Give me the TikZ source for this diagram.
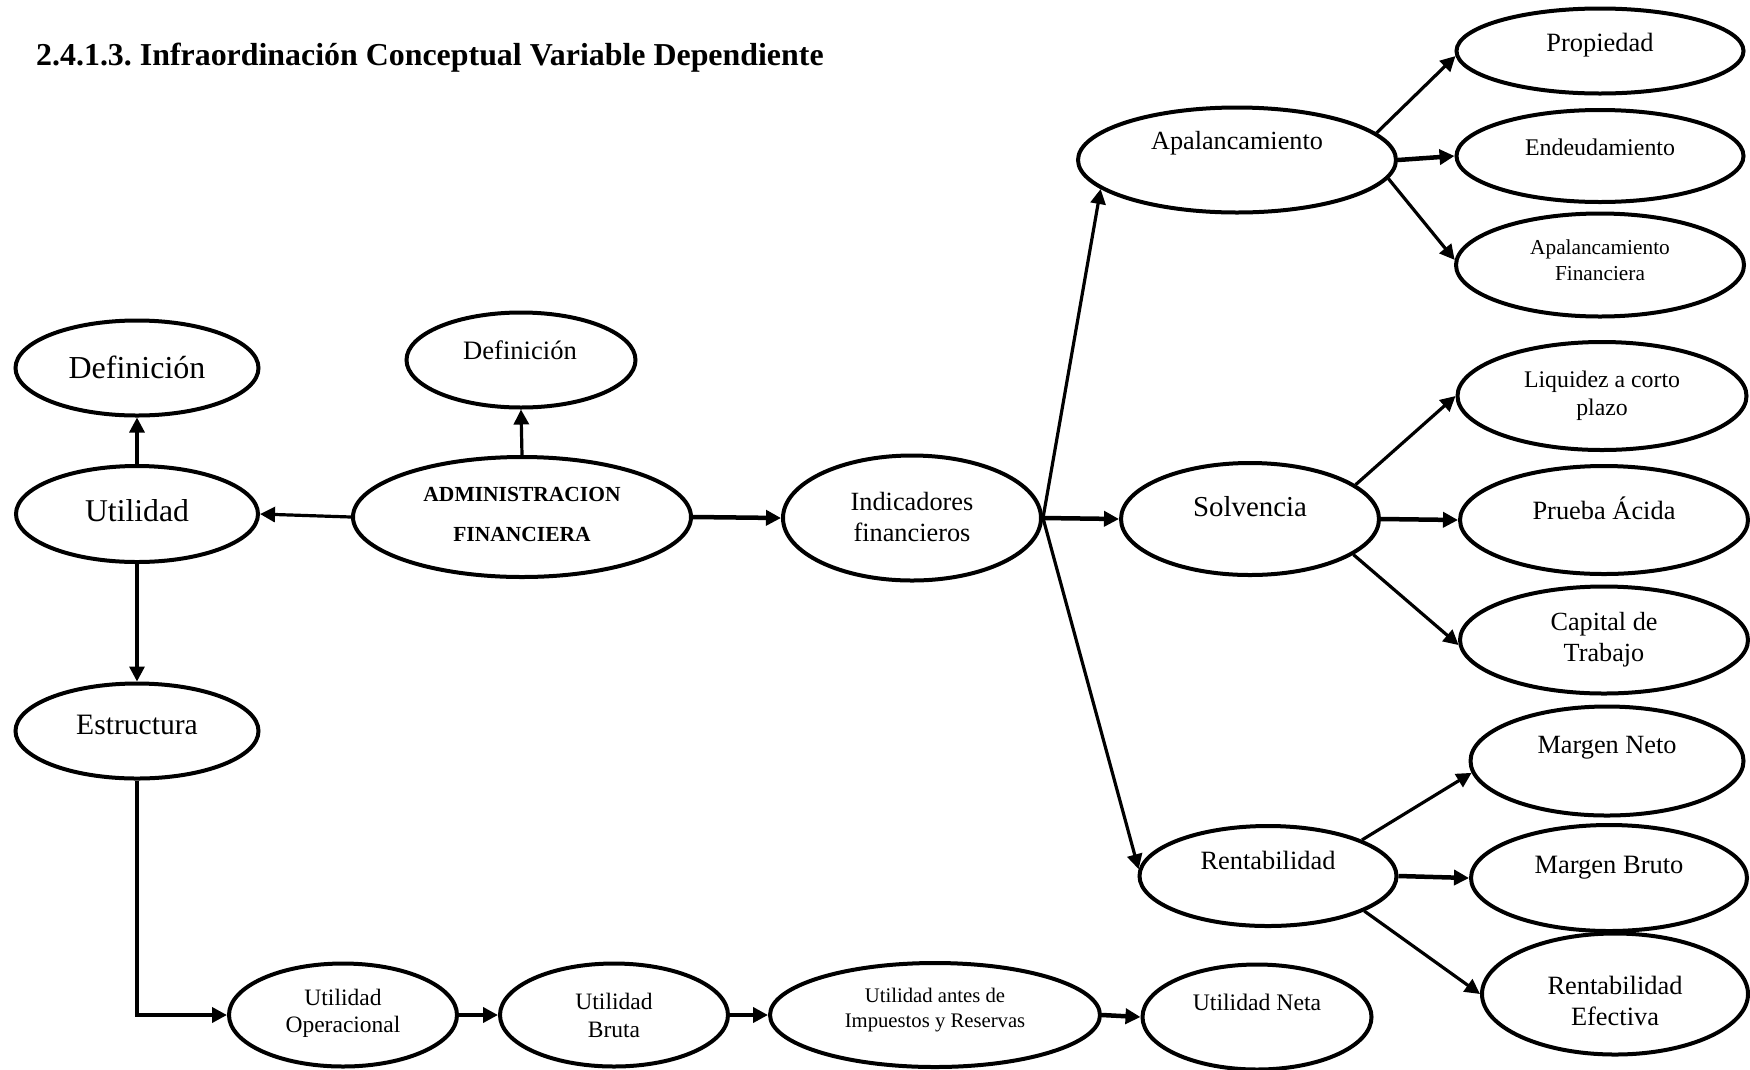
\documentclass[tikz,border=0pt]{standalone}
\usepackage{fontspec}
\setmainfont{Liberation Serif}
\usetikzlibrary{arrows.meta,shapes.geometric}
\frenchspacing
\newcommand\fsz[2]{\fontsize{#1}{#2}\selectfont}
\tikzset{
  oval/.style n args={2}{ellipse, draw, line width=4pt, minimum width=#1pt, minimum height=#2pt, inner sep=0pt},
  txt/.style={align=center, inner sep=0pt},
  tip/.style={-{Triangle[length=15pt,width=15pt]}},
  arr/.style={line width=3.2pt, tip},
  arrb/.style={line width=4.5pt, tip},
}
\begin{document}
\begin{tikzpicture}[x=1pt,y=-1pt]
\useasboundingbox (0,0) rectangle (1750,1069);

% title
\node[anchor=base west, inner sep=0pt, font=\fsz{31.9}{36}\bfseries] (title) at (36,65)
  {2.4.1.3. Infraordinación Conceptual Variable Dependiente};

% left branch
\node[oval={243}{95}] (defl) at (137,368) {};
\node[txt, font=\fsz{32}{36}] (defl-t) at (137,367) {Definición};
\node[oval={242}{96}] (util) at (137,514) {};
\node[txt, font=\fsz{31.7}{36}] (util-t) at (137,511) {Utilidad};
\node[oval={243}{95}] (estr) at (137,731) {};
\node[txt, font=\fsz{29.6}{34}] (estr-t) at (137,725) {Estructura};

% centre
\node[oval={229}{95}] (defm) at (521,360) {};
\node[txt, font=\fsz{26.6}{30}] (defm-t) at (520,350) {Definición};
\node[oval={338}{120}] (adm) at (522,517) {};
\node[txt, font=\fsz{21.5}{40}\bfseries] (adm-t) at (522,514) {ADMINISTRACION\\FINANCIERA};
\node[oval={258}{125}] (ind) at (912,518) {};
\node[txt, font=\fsz{26.3}{31}] (ind-t) at (912,517) {Indicadores\\financieros};

% second level
\node[oval={318}{105}] (apal) at (1237,160) {};
\node[txt, font=\fsz{26.2}{30}] (apal-t) at (1237,143) {Apalancamiento};
\node[oval={258}{112}] (solv) at (1250,519) {};
\node[txt, font=\fsz{28.9}{33}] (solv-t) at (1250,507) {Solvencia};
\node[oval={257}{100}] (rent) at (1268,876) {};
\node[txt, font=\fsz{26.4}{30}] (rent-t) at (1268,860) {Rentabilidad};

% leaves of Apalancamiento
\node[oval={287}{85}] (prop) at (1600,51) {};
\node[txt, font=\fsz{26.4}{30}] (prop-t) at (1600,45) {Propiedad};
\node[oval={287}{92}] (endeu) at (1600,156) {};
\node[txt, font=\fsz{23.9}{28}] (endeu-t) at (1600,147) {Endeudamiento};
\node[oval={288}{103}] (apfin) at (1600,265) {};
\node[txt, font=\fsz{21.3}{25.7}] (apfin-t) at (1600,260) {Apalancamiento\\Financiera};

% leaves of Solvencia
\node[oval={289}{108}] (liq) at (1602,396) {};
\node[txt, font=\fsz{23.8}{28}] (liq-t) at (1602,396) {Liquidez a corto\\plazo};
\node[oval={288}{108}] (acid) at (1604,520) {};
\node[txt, font=\fsz{26.4}{30}] (acid-t) at (1604,508) {Prueba Ácida};
\node[oval={288}{107}] (cap) at (1604,640) {};
\node[txt, font=\fsz{26.2}{31}] (cap-t) at (1604,640) {Capital de\\Trabajo};

% leaves of Rentabilidad
\node[oval={273}{109}] (mneto) at (1607,761) {};
\node[txt, font=\fsz{26.3}{30}] (mneto-t) at (1607,748) {Margen Neto};
\node[oval={276}{106}] (mbruto) at (1609,878) {};
\node[txt, font=\fsz{26.5}{30}] (mbruto-t) at (1609,868) {Margen Bruto};
\node[oval={266}{121}] (refec) at (1615,994) {};
\node[txt, font=\fsz{26.4}{31}] (refec-t) at (1615,1001) {Rentabilidad\\Efectiva};

% bottom chain
\node[oval={228}{103}] (uop) at (343,1015) {};
\node[txt, font=\fsz{23.5}{27}] (uop-t) at (343,1013) {Utilidad\\Operacional};
\node[oval={228}{103}] (ubr) at (614,1015) {};
\node[txt, font=\fsz{23.5}{28}] (ubr-t) at (614,1015) {Utilidad\\Bruta};
\node[oval={330}{104}] (uai) at (935,1015) {};
\node[txt, font=\fsz{20.7}{24.5}] (uai-t) at (935,1010) {Utilidad antes de\\Impuestos y Reservas};
\node[oval={229}{105}] (uneta) at (1257,1017) {};
\node[txt, font=\fsz{23.7}{28}] (uneta-t) at (1257,1002) {Utilidad Neta};

% connectors
\draw[arr] (util.north) -- (defl.south);
\draw[arr] (adm.west) -- (util.east);
\draw[arr] (adm.north) -- (defm.south);
\draw[arr] (util.south) -- (estr.north);
\coordinate (elbow) at (estr.south |- uop.west);
\draw[line width=3.2pt] (estr.south) -- (elbow);
\draw[arrb] ([xshift=-1.6pt]elbow) -- (uop.west);
\draw[arrb] (adm.east) -- (ind.west);
\draw[arr] (ind.east) -- (apal.192);
\draw[arrb] (ind.east) -- (solv.west);
\draw[arr] (ind.east) -- (rent.177);

\draw[arr] (apal.11) -- (prop.182);
\draw[arrb] (apal.east) -- (endeu.west);
\draw[arr] (apal.-7) -- (apfin.178);

\draw[arr] (solv.18) -- (liq.west);
\draw[arrb] (solv.east) -- (acid.west);
\draw[arr] (solv.-19) -- (cap.182);

\draw[arr] (rent.21) -- (mneto.185);
\draw[arrb] (rent.east) -- (mbruto.west);
\draw[arr] (rent.-20) -- (refec.west);

\draw[arrb] (uop.east) -- (ubr.west);
\draw[arrb] (ubr.east) -- (uai.west);
\draw[arrb] (uai.east) -- (uneta.west);
\end{tikzpicture}
\end{document}
